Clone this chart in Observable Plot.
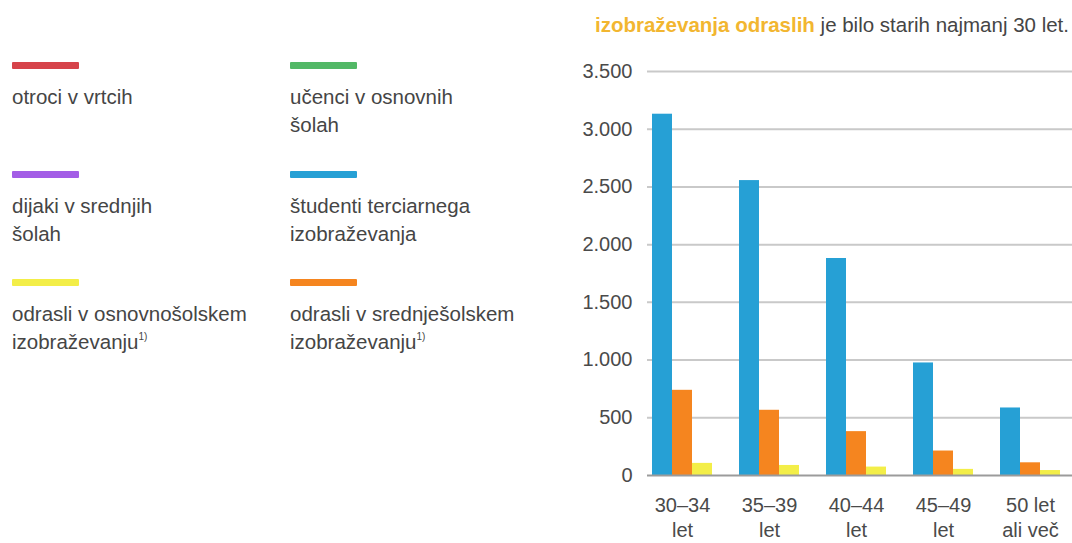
<!DOCTYPE html>
<html>
<head>
<meta charset="utf-8">
<script src="https://cdn.jsdelivr.net/npm/d3@7"></script>
<script src="https://cdn.jsdelivr.net/npm/@observablehq/plot@0.6"></script>
<style>
  html, body { margin: 0; padding: 0; background: #fff; }
  body { width: 1072px; height: 543px; position: relative; overflow: hidden;
         font-family: "Liberation Sans", Arial, Helvetica, sans-serif; color: #454545; }
  #title { position: absolute; left: 595px; top: 13px; font-size: 20.5px; line-height: 24px; white-space: nowrap; color: #454545; }
  #title b { color: #f2b630; }
  #legend { position: absolute; left: 12px; top: 62px; display: grid;
            grid-template-columns: 278px 260px; grid-auto-rows: 108.5px; }
  .item .sw { width: 67px; height: 7px; border-radius: 1px; }
  .item .tx { margin-top: 14px; font-size: 20.5px; line-height: 28px; }
  .item sup { font-size: 10px; vertical-align: 9px; line-height: 0; }
  #chart { position: absolute; left: 0; top: 0; }
</style>
</head>
<body>
<div id="title"></div>
<div id="legend"></div>
<div id="chart"></div>
<script>
// ---- data ----
const titleBold = "izobraževanja odraslih";
const titleRest = " je bilo starih najmanj 30 let.";

const legendLabels = [
  "otroci v vrtcih",
  "učenci v osnovnih\nšolah",
  "dijaki v srednjih\nšolah",
  "študenti terciarnega\nizobraževanja",
  "odrasli v osnovnošolskem\nizobraževanju",
  "odrasli v srednješolskem\nizobraževanju"
];
const legendNotes = ["", "", "", "", "1)", "1)"];
const legendColors = ["#d6434a", "#52b866", "#a35de6", "#26a0d5", "#f3ee48", "#f5851f"];

const ageGroups = ["30–34\nlet", "35–39\nlet", "40–44\nlet", "45–49\nlet", "50 let\nali več"];
const tertiary = [3130, 2555, 1880, 975, 585];       // študenti terciarnega izobraževanja
const adultSecondary = [738, 565, 380, 212, 110];    // odrasli v srednješolskem izobraževanju
const adultBasic = [105, 87, 73, 53, 43];            // odrasli v osnovnošolskem izobraževanju
const yTicks = [0, 500, 1000, 1500, 2000, 2500, 3000, 3500];

// ---- title ----
const t = document.getElementById("title");
const b = document.createElement("b");
b.textContent = titleBold;
t.appendChild(b);
t.appendChild(document.createTextNode(titleRest));

// ---- legend ----
const lg = document.getElementById("legend");
legendLabels.forEach((lab, i) => {
  const it = document.createElement("div");
  it.className = "item";
  const sw = document.createElement("div");
  sw.className = "sw";
  sw.style.background = legendColors[i];
  const tx = document.createElement("div");
  tx.className = "tx";
  const lines = lab.split("\n");
  lines.forEach((ln, j) => {
    if (j > 0) tx.appendChild(document.createElement("br"));
    tx.appendChild(document.createTextNode(ln));
  });
  if (legendNotes[i]) {
    const s = document.createElement("sup");
    s.textContent = legendNotes[i];
    tx.appendChild(s);
  }
  it.appendChild(sw);
  it.appendChild(tx);
  lg.appendChild(it);
});

// ---- chart ----
const loc = d3.formatLocale({decimal: ",", thousands: ".", grouping: [3], currency: ["", "€"]});
const fmt = loc.format(",d");

const shown = [
  {values: tertiary, color: legendColors[3]},
  {values: adultSecondary, color: legendColors[5]},
  {values: adultBasic, color: legendColors[4]}
];
const barMarks = shown.map((s, k) =>
  Plot.barY(s.values, {
    x: (d, i) => ageGroups[i],
    y: d => d,
    fill: s.color,
    insetLeft: k * 20,
    insetRight: (2 - k) * 20
  })
);

const chart = Plot.plot({
  width: 1072,
  height: 543,
  marginLeft: 647,
  marginRight: 0,
  marginTop: 71,
  marginBottom: 68,
  style: {fontFamily: '"Liberation Sans", Arial, sans-serif', fontSize: "20px", color: "#4a4a4a", background: "transparent"},
  x: {domain: ageGroups, range: [647, 1065], paddingInner: 0.31, paddingOuter: 0.057, align: 0.5},
  y: {domain: [0, 3500]},
  marks: [
    Plot.ruleY(yTicks.filter(d => d > 0), {stroke: "#c9c9c9", strokeWidth: 2}),
    ...barMarks,
    Plot.ruleY([0], {stroke: "#9b9b9b", strokeWidth: 2}),
    Plot.axisY({ticks: yTicks, tickSize: 0, tickPadding: 15, tickFormat: fmt, fontSize: 20, label: null}),
    Plot.axisX({tickSize: 0, tickPadding: 19, fontSize: 20, lineHeight: 1.25, label: null})
  ]
});
document.getElementById("chart").appendChild(chart);
</script>
</body>
</html>
